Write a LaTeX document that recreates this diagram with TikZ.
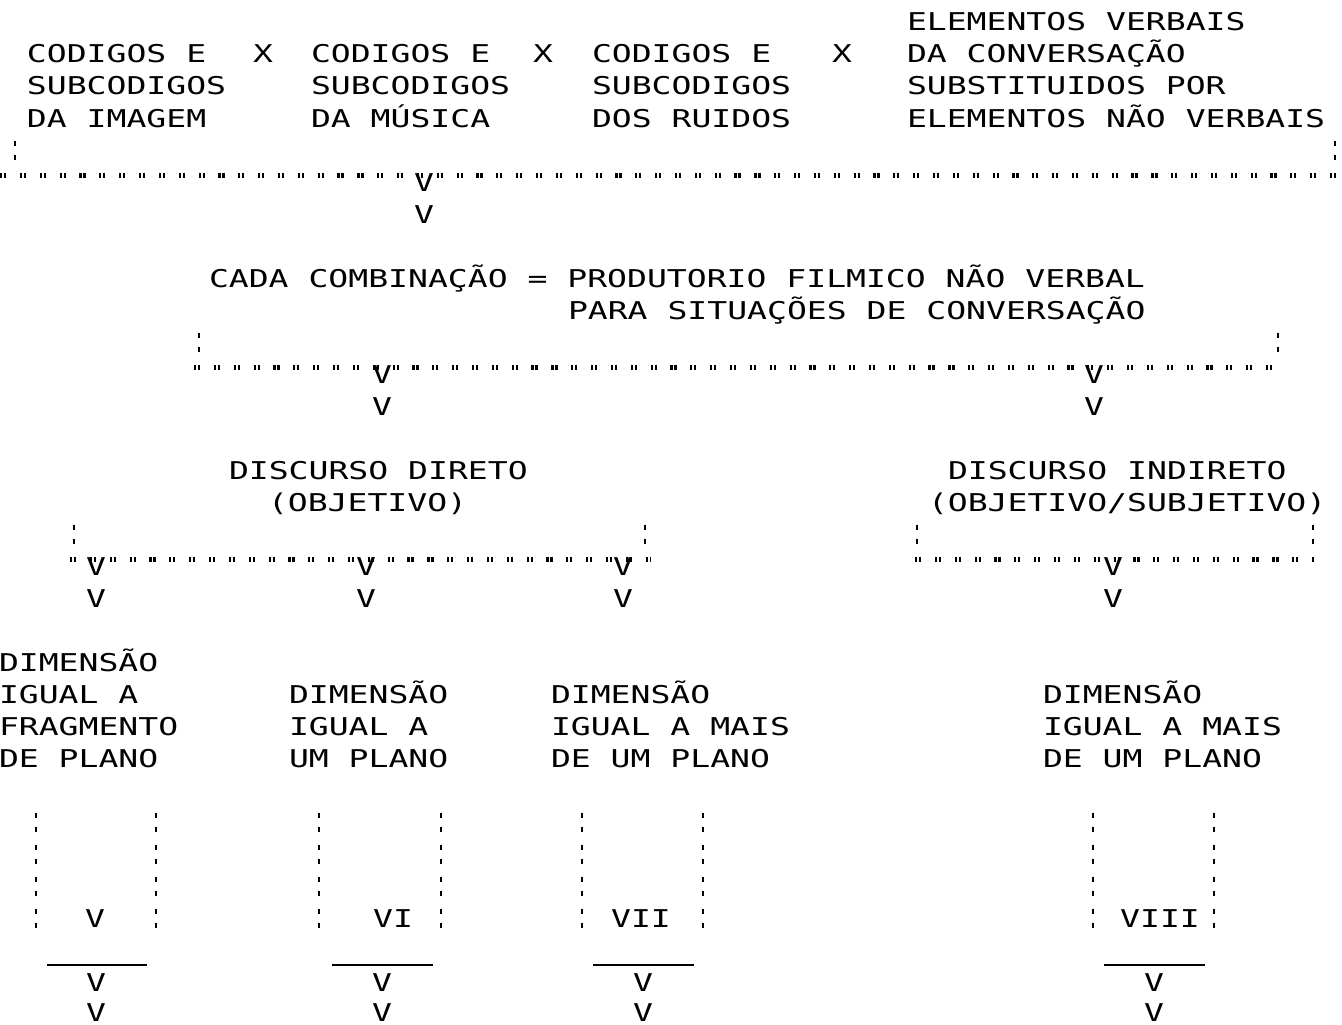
\documentclass[tikz,border=0pt]{standalone}
\usepackage{fontspec}
\newfontfamily\tw{DejaVu Sans Mono}[FakeStretch=1.35]
\newcommand{\twfont}{\tw\fontsize{24.5}{32}\selectfont}
\tikzset{
  tx/.style={font=\twfont, inner sep=0pt, outer sep=0pt, anchor=base west},
  vv/.style={font=\twfont, inner sep=0pt, outer sep=0pt, anchor=base},
  quoteline/.style={line width=5pt, dash pattern=on 2.2pt off 1.8pt on 2.2pt off 13.65pt},
  colonline/.style={line width=2.6pt, dash pattern=on 5pt off 9pt on 5pt off 13pt},
  ruleline/.style={line width=2.5pt}
}
\begin{document}
\begin{tikzpicture}[x=1pt,y=-1pt]
\useasboundingbox (0,0) rectangle (1342,1025);
\fill[white] (0,0) rectangle (1342,1025);

% ---------- top row ----------
\node[tx] (c1a) at (27,63) {CODIGOS E};
\node[tx] (c1b) at (27,95) {SUBCODIGOS};
\node[tx] (c1c) at (27,127) {DA IMAGEM};
\node[vv] (x1) at (263,63) {X};
\node[tx] (c2a) at (311,63) {CODIGOS E};
\node[tx] (c2b) at (311,95) {SUBCODIGOS};
\node[tx] (c2c) at (311,127) {DA MÚSICA};
\node[vv] (x2) at (543,63) {X};
\node[tx] (c3a) at (592,63) {CODIGOS E};
\node[tx] (c3b) at (592,95) {SUBCODIGOS};
\node[tx] (c3c) at (592,127) {DOS RUIDOS};
\node[vv] (x3) at (842,63) {X};
\node[tx] (e1) at (907,31) {ELEMENTOS VERBAIS};
\node[tx] (e2) at (907,63) {DA CONVERSAÇÃO};
\node[tx] (e3) at (907,95) {SUBSTITUIDOS POR};
\node[tx] (e4) at (907,127) {ELEMENTOS NÃO VERBAIS};

\coordinate (k1t) at (15,140.5); \coordinate (k1b) at (15,159.5);
\coordinate (k2t) at (1335,140.5); \coordinate (k2b) at (1335,159.5);
\draw[colonline] (k1t) -- (k1b);
\draw[colonline] (k2t) -- (k2b);
\coordinate (q1a) at (0,175); \coordinate (q1b) at (1342,175);
\draw[quoteline] (q1a) -- (q1b);
\node[vv] (v1) at (424,191) {V};
\node[vv] (v1d) at (424,223) {V};

% ---------- second level ----------
\node[tx] (cada) at (209,287) {CADA COMBINAÇÃO = PRODUTORIO FILMICO NÃO VERBAL};
\node[tx] (para) at (568,319) {PARA SITUAÇÕES DE CONVERSAÇÃO};
\coordinate (k3t) at (199,332.5); \coordinate (k3b) at (199,351.5);
\coordinate (k4t) at (1278,332.5); \coordinate (k4b) at (1278,351.5);
\draw[colonline] (k3t) -- (k3b);
\draw[colonline] (k4t) -- (k4b);
\coordinate (q2a) at (194,367); \coordinate (q2b) at (1282,367);
\draw[quoteline] (q2a) -- (q2b);
\node[vv] (v2) at (382,383) {V};
\node[vv] (v2d) at (382,415) {V};
\node[vv] (v3) at (1094,383) {V};
\node[vv] (v3d) at (1094,415) {V};

% ---------- third level ----------
\node[tx] (dd1) at (229,479) {DISCURSO DIRETO};
\node[tx] (dd2) at (268,511) {(OBJETIVO)};
\node[tx] (di1) at (948,479) {DISCURSO INDIRETO};
\node[tx] (di2) at (928,511) {(OBJETIVO/SUBJETIVO)};
\coordinate (k5t) at (74,524.5); \coordinate (k5b) at (74,543.5);
\coordinate (k6t) at (645,524.5); \coordinate (k6b) at (645,543.5);
\coordinate (k7t) at (917,524.5); \coordinate (k7b) at (917,543.5);
\coordinate (k8t) at (1313,524.5); \coordinate (k8b) at (1313,543.5);
\draw[colonline] (k5t) -- (k5b);
\draw[colonline] (k6t) -- (k6b);
\draw[colonline] (k7t) -- (k7b);
\draw[colonline] (k8t) -- (k8b);
\coordinate (q3a) at (70,559); \coordinate (q3b) at (650,559);
\coordinate (q4a) at (915,559); \coordinate (q4b) at (1315,559);
\draw[quoteline] (q3a) -- (q3b);
\draw[quoteline] (q4a) -- (q4b);
\node[vv] (v4) at (96,575) {V};
\node[vv] (v4d) at (96,607) {V};
\node[vv] (v5) at (366,575) {V};
\node[vv] (v5d) at (366,607) {V};
\node[vv] (v6) at (623,575) {V};
\node[vv] (v6d) at (623,607) {V};
\node[vv] (v7) at (1113,575) {V};
\node[vv] (v7d) at (1113,607) {V};

% ---------- dimension labels ----------
\node[tx] (d1a) at (-1,671) {DIMENSÃO};
\node[tx] (d1b) at (-1,703) {IGUAL A};
\node[tx] (d1c) at (-1,735) {FRAGMENTO};
\node[tx] (d1d) at (-1,767) {DE PLANO};
\node[tx] (d2a) at (289,703) {DIMENSÃO};
\node[tx] (d2b) at (289,735) {IGUAL A};
\node[tx] (d2c) at (289,767) {UM PLANO};
\node[tx] (d3a) at (551,703) {DIMENSÃO};
\node[tx] (d3b) at (551,735) {IGUAL A MAIS};
\node[tx] (d3c) at (551,767) {DE UM PLANO};
\node[tx] (d4a) at (1043,703) {DIMENSÃO};
\node[tx] (d4b) at (1043,735) {IGUAL A MAIS};
\node[tx] (d4c) at (1043,767) {DE UM PLANO};

% ---------- boxes ----------
\foreach \n/\xl/\xr in {1/36/156, 2/319/441, 3/582/703, 4/1093/1214}{
  \coordinate (bl\n t) at (\xl,812.5); \coordinate (bl\n b) at (\xl,927.5);
  \coordinate (br\n t) at (\xr,812.5); \coordinate (br\n b) at (\xr,927.5);
  \draw[colonline] (bl\n t) -- (bl\n b);
  \draw[colonline] (br\n t) -- (br\n b);
}
\node[vv] (L1) at (95,927) {V};
\node[vv] (L2) at (393,927) {VI};
\node[vv] (L3) at (641,927) {VII};
\node[vv] (L4) at (1160,927) {VIII};

\foreach \n/\xa/\xb/\xv in {1/47/147/96, 2/332/433/382, 3/593/694/643, 4/1104/1205/1154}{
  \coordinate (ra\n) at (\xa,965); \coordinate (rb\n) at (\xb,965);
  \draw[ruleline] (ra\n) -- (rb\n);
  \node[vv] (w\n a) at (\xv,991) {V};
  \node[vv] (w\n b) at (\xv,1021) {V};
}
\end{tikzpicture}
\end{document}
